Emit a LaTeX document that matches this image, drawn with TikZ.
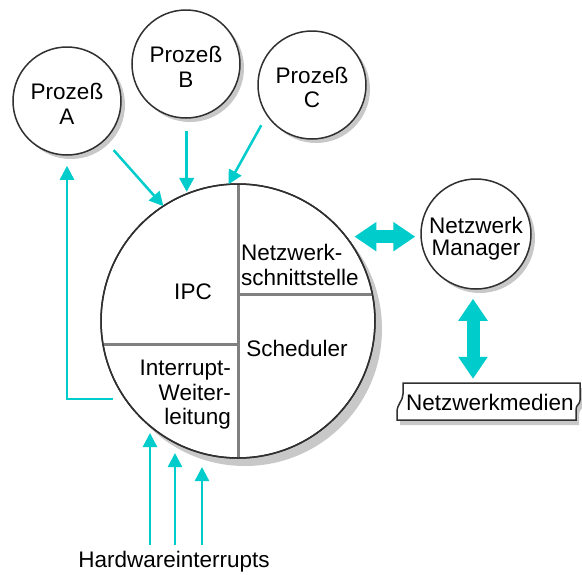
\documentclass[tikz,border=0pt]{standalone}
\usepackage{fontspec}
\setmainfont{Liberation Sans}
\usetikzlibrary{arrows.meta,shadows}
\definecolor{flowcyan}{HTML}{00CCCC}
\definecolor{outline}{HTML}{303030}
\definecolor{divider}{HTML}{808080}
\definecolor{shade}{HTML}{C8C8C8}

\begin{document}
\begin{tikzpicture}[x=1pt,y=-1pt,
  every node/.style={font=\fontsize{22.5}{24.5}\selectfont},
  txt/.style={inner sep=0pt},
  proc/.style={circle, draw=outline, line width=1.5pt, fill=white,
    minimum size=108pt, inner sep=0pt, align=center, text height=46pt,
    drop shadow={shadow xshift=4pt, shadow yshift=-4pt, fill=shade, opacity=1}},
  kernel/.style={circle, draw=outline, line width=1.5pt, fill=white,
    minimum size=274pt, inner sep=0pt, outer sep=0pt,
    drop shadow={shadow xshift=7pt, shadow yshift=-8pt, fill=shade, opacity=1}},
  divline/.style={draw=divider, line width=3pt},
  flow/.style={draw=flowcyan, line width=2.5pt, -{Triangle[width=14pt,length=14pt]}},
  bigarrow/.style={draw=flowcyan, line width=13pt,
    {Triangle[width=28pt,length=22pt]}-{Triangle[width=28pt,length=22pt]}},
]
\fill[white] (0,0) rectangle (582,574);
\useasboundingbox (0,0) rectangle (582,574);

% processes
\node[proc] (procA) at (67,101) {Prozeß\\A};
\node[proc] (procB) at (186,64) {Prozeß\\B};
\node[proc] (procC) at (312,85) {Prozeß\\C};

% kernel circle with its four parts
\node[kernel] (kern) at (238,321) {};
\draw[divline] (kern.north) -- (kern.south);
\draw[divline] (kern.center |- kern.11.8) -- (kern.11.8);
\draw[divline] (kern.190.5) -- (kern.center |- kern.190.5);
\draw[outline, line width=1.5pt] (kern.center) circle[radius=137pt];

\node[txt] (ipc) at (193,292) {IPC};
\node[txt, anchor=west, align=left] (netif) at (241,265) {Netzwerk-\\schnittstelle};
\node[txt] (sched) at (297,348) {Scheduler};
\node[txt, anchor=east, align=right] (irq) at (231,395) {Interrupt-\\Weiter-\\leitung};

% network manager and media
\node[proc, minimum size=110pt, text height=48pt, font=\fontsize{22.5}{22}\selectfont] (netmgr) at (476,234) {Netzwerk\\Manager};
\draw[outline, line width=1.5pt, fill=white,
  drop shadow={shadow xshift=3pt, shadow yshift=-5pt, fill=shade, opacity=1}]
  (403,383) -- (580,383) -- (580,400) .. controls (580,405) and (576,404) .. (576,410)
  -- (576,420) -- (397,420) -- (397,412) .. controls (397,404) and (403,401) .. (403,394) -- cycle;
\node[txt, minimum width=180pt, minimum height=36pt] (media) at (490,402) {Netzwerkmedien};

% message flows
\draw[flow, shorten <=13pt] (procA.-46.8) -- (kern.123.9);
\draw[flow, line width=3.5pt, shorten <=12pt, shorten >=2pt] (kern.112 |- procB.south) -- (kern.112);
\draw[flow, shorten <=11pt] (procC.214.4) -- (kern.94.2);

\coordinate (irqout) at (113,399);
\draw[flow, shorten >=10pt] (irqout) -| (procA.south);

% hardware interrupts
\node (hwlabel) at (174,562) {Hardwareinterrupts};
\coordinate (hw1) at (150,545); \coordinate (hw1t) at (150,433);
\coordinate (hw2) at (175,545); \coordinate (hw2t) at (175,453);
\coordinate (hw3) at (202,545); \coordinate (hw3t) at (202,467);
\draw[flow] (hw1) -- (hw1t);
\draw[flow] (hw2) -- (hw2t);
\draw[flow] (hw3) -- (hw3t);

% network links
\draw[bigarrow, shorten <=8.5pt, shorten >=5pt] (kern.38.9) -- (kern.38.9 -| netmgr.west);
\draw[bigarrow, shorten <=9pt, shorten >=5pt] ([xshift=-3pt]netmgr.south) -- ([xshift=-3pt]netmgr.south |- media.north);
\end{tikzpicture}
\end{document}
